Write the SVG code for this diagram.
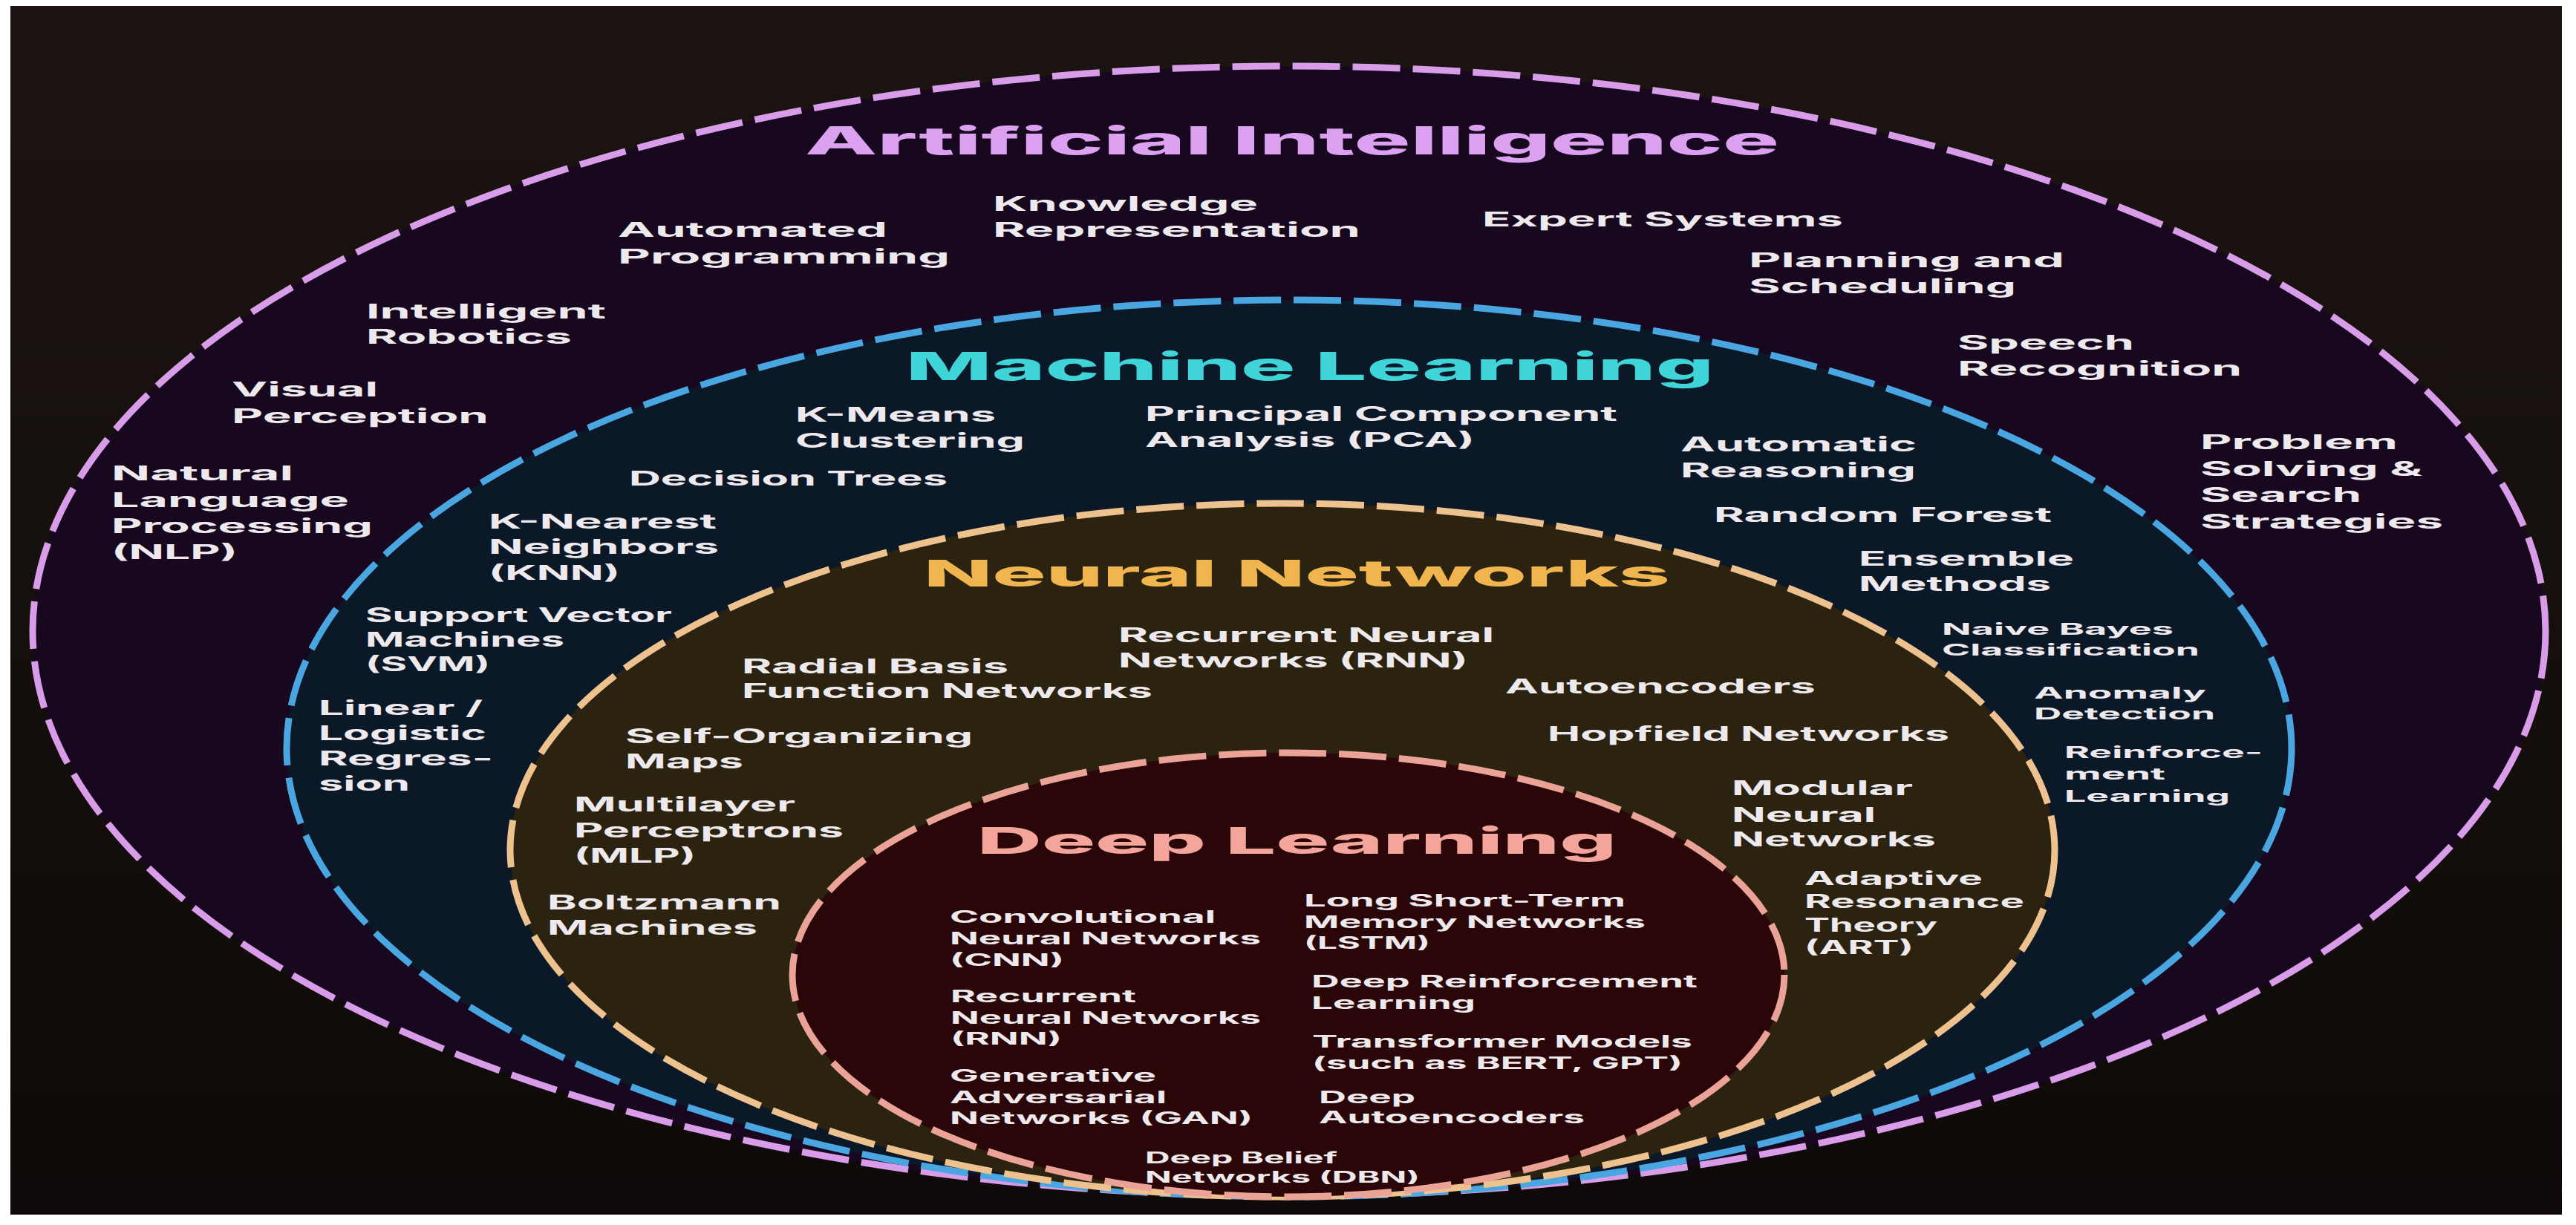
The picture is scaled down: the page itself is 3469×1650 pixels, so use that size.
<svg xmlns="http://www.w3.org/2000/svg" width="3469" height="1650" viewBox="0 0 3469 1650">
<defs>
<linearGradient id="bg" x1="0" y1="0" x2="0" y2="1">
<stop offset="0" stop-color="#1b1412"/>
<stop offset="1" stop-color="#0f0a09"/>
</linearGradient>
<style>
.ring{stroke-width:9;stroke-dasharray:64 17;stroke-linecap:butt}
.t{font-family:Inter,"Open Sans","Liberation Sans",sans-serif;font-weight:800}
.i{font-family:Inter,"Open Sans","Liberation Sans",sans-serif;font-weight:700;fill:#ede9ec}
.s27{font-size:27px}
.s25{font-size:25px}
.s23{font-size:23px}
.s22{font-size:22px}
.s21{font-size:21px}
</style>
</defs>
<rect x="0" y="0" width="3469" height="1650" fill="#ffffff"/>
<rect x="14" y="8" width="3436" height="1628" fill="url(#bg)"/>

<g id="node-ai">
<ellipse class="ring" cx="1736" cy="850" rx="1692" ry="761" fill="#17071f" stroke="#d89ce8"/>
<text class="t" x="1084" y="208" font-size="52" fill="#dba0ef" textLength="1312" lengthAdjust="spacingAndGlyphs">Artificial Intelligence</text>
<g class="i s27">
<text x="832" y="319" textLength="363" lengthAdjust="spacingAndGlyphs">Automated</text>
<text x="832" y="355" textLength="447" lengthAdjust="spacingAndGlyphs">Programming</text>
<text x="1337" y="284" textLength="357" lengthAdjust="spacingAndGlyphs">Knowledge</text>
<text x="1337" y="319" textLength="495" lengthAdjust="spacingAndGlyphs">Representation</text>
<text x="1996" y="305" textLength="486" lengthAdjust="spacingAndGlyphs">Expert Systems</text>
<text x="2355" y="360" textLength="425" lengthAdjust="spacingAndGlyphs">Planning and</text>
<text x="2355" y="395" textLength="360" lengthAdjust="spacingAndGlyphs">Scheduling</text>
<text x="2636" y="471" textLength="238" lengthAdjust="spacingAndGlyphs">Speech</text>
<text x="2636" y="506" textLength="383" lengthAdjust="spacingAndGlyphs">Recognition</text>
<text x="2963" y="605" textLength="266" lengthAdjust="spacingAndGlyphs">Problem</text>
<text x="2963" y="641" textLength="299" lengthAdjust="spacingAndGlyphs">Solving &amp;</text>
<text x="2963" y="676" textLength="217" lengthAdjust="spacingAndGlyphs">Search</text>
<text x="2963" y="712" textLength="327" lengthAdjust="spacingAndGlyphs">Strategies</text>
<text x="493" y="429" textLength="323" lengthAdjust="spacingAndGlyphs">Intelligent</text>
<text x="493" y="463" textLength="277" lengthAdjust="spacingAndGlyphs">Robotics</text>
<text x="312" y="534" textLength="197" lengthAdjust="spacingAndGlyphs">Visual</text>
<text x="312" y="570" textLength="346" lengthAdjust="spacingAndGlyphs">Perception</text>
<text x="150" y="647" textLength="245" lengthAdjust="spacingAndGlyphs">Natural</text>
<text x="150" y="683" textLength="320" lengthAdjust="spacingAndGlyphs">Language</text>
<text x="150" y="718" textLength="352" lengthAdjust="spacingAndGlyphs">Processing</text>
<text x="150" y="753" textLength="170" lengthAdjust="spacingAndGlyphs">(NLP)</text>
</g>
</g>

<g id="node-ml">
<ellipse class="ring" cx="1736" cy="1008" rx="1350" ry="604" fill="#0b1828" stroke="#4aa6e0"/>
<text class="t" x="1220" y="512" font-size="52" fill="#3fd5d8" textLength="1088" lengthAdjust="spacingAndGlyphs">Machine Learning</text>
<g class="i s27">
<text x="1071" y="568" textLength="270" lengthAdjust="spacingAndGlyphs">K-Means</text>
<text x="1071" y="603" textLength="309" lengthAdjust="spacingAndGlyphs">Clustering</text>
<text x="1542" y="567" textLength="636" lengthAdjust="spacingAndGlyphs">Principal Component</text>
<text x="1542" y="602" textLength="444" lengthAdjust="spacingAndGlyphs">Analysis (PCA)</text>
<text x="847" y="654" textLength="429" lengthAdjust="spacingAndGlyphs">Decision Trees</text>
<text x="658" y="712" textLength="307" lengthAdjust="spacingAndGlyphs">K-Nearest</text>
<text x="658" y="746" textLength="310" lengthAdjust="spacingAndGlyphs">Neighbors</text>
<text x="658" y="781" textLength="177" lengthAdjust="spacingAndGlyphs">(KNN)</text>
<text x="2263" y="608" textLength="318" lengthAdjust="spacingAndGlyphs">Automatic</text>
<text x="2263" y="643" textLength="317" lengthAdjust="spacingAndGlyphs">Reasoning</text>
<text x="2308" y="703" textLength="455" lengthAdjust="spacingAndGlyphs">Random Forest</text>
<text x="2503" y="762" textLength="290" lengthAdjust="spacingAndGlyphs">Ensemble</text>
<text x="2503" y="796" textLength="259" lengthAdjust="spacingAndGlyphs">Methods</text>
<text x="492" y="838" textLength="413" lengthAdjust="spacingAndGlyphs">Support Vector</text>
<text x="492" y="871" textLength="268" lengthAdjust="spacingAndGlyphs">Machines</text>
<text x="492" y="904" textLength="168" lengthAdjust="spacingAndGlyphs">(SVM)</text>
<text x="429" y="963" textLength="221" lengthAdjust="spacingAndGlyphs">Linear /</text>
<text x="429" y="997" textLength="226" lengthAdjust="spacingAndGlyphs">Logistic</text>
<text x="429" y="1031" textLength="235" lengthAdjust="spacingAndGlyphs">Regres-</text>
<text x="429" y="1065" textLength="123" lengthAdjust="spacingAndGlyphs">sion</text>
</g>
<g class="i s22">
<text x="2615" y="855" textLength="312" lengthAdjust="spacingAndGlyphs">Naive Bayes</text>
<text x="2615" y="883" textLength="347" lengthAdjust="spacingAndGlyphs">Classification</text>
<text x="2739" y="941" textLength="232" lengthAdjust="spacingAndGlyphs">Anomaly</text>
<text x="2739" y="969" textLength="244" lengthAdjust="spacingAndGlyphs">Detection</text>
<text x="2780" y="1021" textLength="267" lengthAdjust="spacingAndGlyphs">Reinforce-</text>
<text x="2780" y="1050" textLength="136" lengthAdjust="spacingAndGlyphs">ment</text>
<text x="2780" y="1080" textLength="223" lengthAdjust="spacingAndGlyphs">Learning</text>
</g>
</g>

<g id="node-nn">
<ellipse class="ring" cx="1727" cy="1145" rx="1040" ry="467" fill="#2b230f" stroke="#eec28e"/>
<text class="t" x="1244" y="790" font-size="50" fill="#f0b54e" textLength="1005" lengthAdjust="spacingAndGlyphs">Neural Networks</text>
<g class="i s27">
<text x="1506" y="865" textLength="506" lengthAdjust="spacingAndGlyphs">Recurrent Neural</text>
<text x="1506" y="899" textLength="471" lengthAdjust="spacingAndGlyphs">Networks (RNN)</text>
<text x="999" y="907" textLength="359" lengthAdjust="spacingAndGlyphs">Radial Basis</text>
<text x="999" y="940" textLength="553" lengthAdjust="spacingAndGlyphs">Function Networks</text>
<text x="2027" y="934" textLength="418" lengthAdjust="spacingAndGlyphs">Autoencoders</text>
<text x="842" y="1001" textLength="468" lengthAdjust="spacingAndGlyphs">Self-Organizing</text>
<text x="842" y="1035" textLength="159" lengthAdjust="spacingAndGlyphs">Maps</text>
<text x="2084" y="998" textLength="541" lengthAdjust="spacingAndGlyphs">Hopfield Networks</text>
<text x="773" y="1093" textLength="298" lengthAdjust="spacingAndGlyphs">Multilayer</text>
<text x="773" y="1128" textLength="363" lengthAdjust="spacingAndGlyphs">Perceptrons</text>
<text x="773" y="1162" textLength="164" lengthAdjust="spacingAndGlyphs">(MLP)</text>
<text x="2332" y="1071" textLength="244" lengthAdjust="spacingAndGlyphs">Modular</text>
<text x="2332" y="1107" textLength="194" lengthAdjust="spacingAndGlyphs">Neural</text>
<text x="2332" y="1140" textLength="275" lengthAdjust="spacingAndGlyphs">Networks</text>
<text x="737" y="1225" textLength="315" lengthAdjust="spacingAndGlyphs">Boltzmann</text>
<text x="737" y="1259" textLength="283" lengthAdjust="spacingAndGlyphs">Machines</text>
</g>
<g class="i s25">
<text x="2430" y="1192" textLength="240" lengthAdjust="spacingAndGlyphs">Adaptive</text>
<text x="2430" y="1223" textLength="296" lengthAdjust="spacingAndGlyphs">Resonance</text>
<text x="2430" y="1255" textLength="179" lengthAdjust="spacingAndGlyphs">Theory</text>
<text x="2430" y="1285" textLength="147" lengthAdjust="spacingAndGlyphs">(ART)</text>
</g>
</g>

<g id="node-dl">
<ellipse class="ring" cx="1735" cy="1313" rx="668" ry="299" fill="#2a0608" stroke="#eba398"/>
<text class="t" x="1316" y="1150" font-size="50" fill="#f3a59c" textLength="861" lengthAdjust="spacingAndGlyphs">Deep Learning</text>
<g class="i s23">
<text x="1279" y="1243" textLength="358" lengthAdjust="spacingAndGlyphs">Convolutional</text>
<text x="1279" y="1272" textLength="419" lengthAdjust="spacingAndGlyphs">Neural Networks</text>
<text x="1279" y="1301" textLength="154" lengthAdjust="spacingAndGlyphs">(CNN)</text>
<text x="1280" y="1350" textLength="250" lengthAdjust="spacingAndGlyphs">Recurrent</text>
<text x="1280" y="1379" textLength="418" lengthAdjust="spacingAndGlyphs">Neural Networks</text>
<text x="1280" y="1407" textLength="150" lengthAdjust="spacingAndGlyphs">(RNN)</text>
<text x="1279" y="1457" textLength="278" lengthAdjust="spacingAndGlyphs">Generative</text>
<text x="1279" y="1486" textLength="292" lengthAdjust="spacingAndGlyphs">Adversarial</text>
<text x="1279" y="1514" textLength="408" lengthAdjust="spacingAndGlyphs">Networks (GAN)</text>
<text x="1756" y="1221" textLength="433" lengthAdjust="spacingAndGlyphs">Long Short-Term</text>
<text x="1756" y="1250" textLength="460" lengthAdjust="spacingAndGlyphs">Memory Networks</text>
<text x="1756" y="1278" textLength="170" lengthAdjust="spacingAndGlyphs">(LSTM)</text>
<text x="1766" y="1330" textLength="520" lengthAdjust="spacingAndGlyphs">Deep Reinforcement</text>
<text x="1766" y="1359" textLength="221" lengthAdjust="spacingAndGlyphs">Learning</text>
<text x="1767" y="1411" textLength="512" lengthAdjust="spacingAndGlyphs">Transformer Models</text>
<text x="1767" y="1440" textLength="499" lengthAdjust="spacingAndGlyphs">(such as BERT, GPT)</text>
<text x="1776" y="1486" textLength="130" lengthAdjust="spacingAndGlyphs">Deep</text>
<text x="1776" y="1513" textLength="358" lengthAdjust="spacingAndGlyphs">Autoencoders</text>
</g>
<g class="i s21">
<text x="1542" y="1567" textLength="259" lengthAdjust="spacingAndGlyphs">Deep Belief</text>
<text x="1542" y="1593" textLength="370" lengthAdjust="spacingAndGlyphs">Networks (DBN)</text>
</g>
</g>

<g id="connectors"/>
</svg>
